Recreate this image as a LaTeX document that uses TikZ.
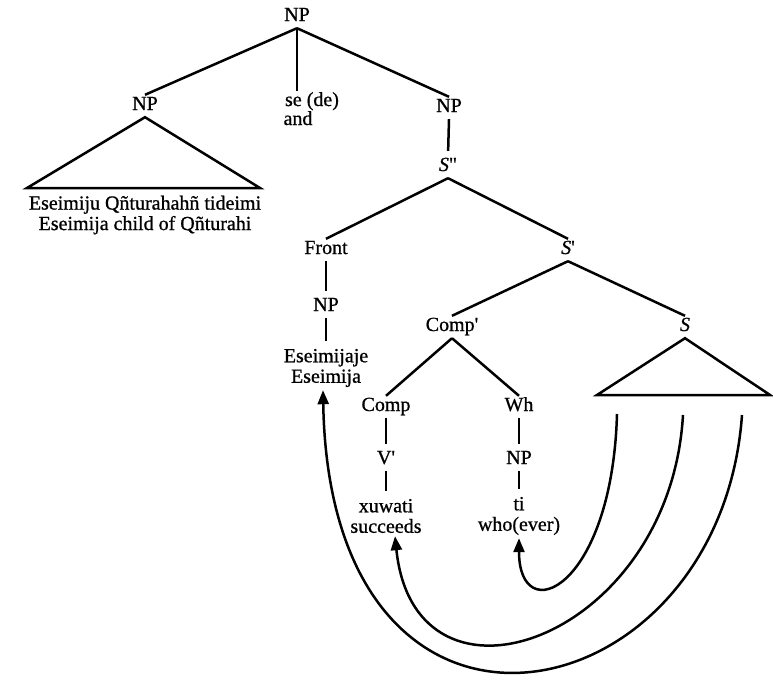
\documentclass[tikz,border=0pt]{standalone}
\usepackage{fontspec}
\setmainfont{Liberation Serif}[Ligatures=TeXOff, FakeBold=0.8]
\usetikzlibrary{arrows.meta}
\newcommand{\pr}{\symbol{39}}
\newcommand{\dpr}{\symbol{34}}
\begin{document}
\begin{tikzpicture}[x=1pt,y=-1pt,
  lbl/.style={font=\fontsize{20}{21}\selectfont, text height=12pt, text depth=4pt, inner sep=3pt},
  leaf/.style={font=\fontsize{20}{20.5}\selectfont, align=center, inner sep=3pt},
  edge/.style={line width=2.5pt},
  unary/.style={line width=2.5pt, shorten >=5pt},
  tri/.style={line width=2.5pt, line join=miter},
  move/.style={line width=2.5pt, -{Triangle[length=14pt,width=11pt]}}]
\useasboundingbox (0,0) rectangle (773,681);

% node labels
\node[lbl] (np0) at (297,17) {NP};
\node[lbl] (np1) at (145,106) {NP};
\node[lbl] (se) at (312,102) {se (de)};
\node[lbl] (and) at (298,121) {and};
\node[lbl] (np2) at (449,108) {NP};
\node[leaf] (lf1) at (145,215) {Eseimiju Qñturahahñ tideimi\\Eseimija child of Qñturahi};
\node[lbl] (s2) at (448,167) {\textit{S}\dpr};
\node[lbl] (front) at (326,250) {Front};
\node[lbl] (s1) at (568,250) {\textit{S}\pr};
\node[lbl] (np3) at (326,307) {NP};
\node[leaf] (lf2) at (326,368) {Eseimijaje\\Eseimija};
\node[lbl] (compb) at (452,327) {Comp\pr};
\node[lbl] (s0) at (685,327) {\textit{S}};
\node[lbl] (comp) at (386,407) {Comp};
\node[lbl] (wh) at (519,407) {Wh};
\node[lbl] (vb) at (386,460) {V\pr};
\node[lbl] (np4) at (519,460) {NP};
\node[leaf] (lf3) at (386,516) {xuwati\\succeeds};
\node[leaf] (lf4) at (519,516) {ti\\who(ever)};

% tree edges
\draw[edge] (np0.south) -- (np1.north);
\draw[edge] (np0.south) -- (np0.south |- se.north);
\draw[edge] (np0.south) -- (np2.north);
\draw[unary] (np2.south) -- (s2.north);
\draw[edge] (s2.south) -- (front.north);
\draw[edge] (s2.south) -- (s1.north);
\draw[unary] (front.south) -- (np3.north);
\draw[unary] (np3.south) -- (lf2.north);
\draw[edge] (s1.south) -- (compb.north);
\draw[edge] (s1.south) -- (s0.north);
\draw[edge] (compb.south) -- (comp.north);
\draw[edge] (compb.south) -- (wh.north);
\draw[unary] (comp.south) -- (vb.north);
\draw[unary] (vb.south) -- (lf3.north);
\draw[unary] (wh.south) -- (np4.north);
\draw[unary] (np4.south) -- (lf4.north);

% abbreviated subtrees
\draw[tri] (np1.south) -- (27,188) -- (260,188) -- cycle;
\draw[tri] (s0.south) -- (597,395) -- (770,395) -- cycle;

% movement arrows
\coordinate (m1) at (617,414);
\coordinate (m2) at (683,415);
\coordinate (m3) at (742,415);
\draw[move] (m1) .. controls (612,590) and (519,630) .. (lf4.south);
\draw[move] (m2) .. controls (670,640) and (415,730) .. ([xshift=9pt]lf3.south);
\draw[move] (m3) .. controls (720,720) and (330,800) .. ([xshift=-3pt]lf2.south);
\end{tikzpicture}
\end{document}
